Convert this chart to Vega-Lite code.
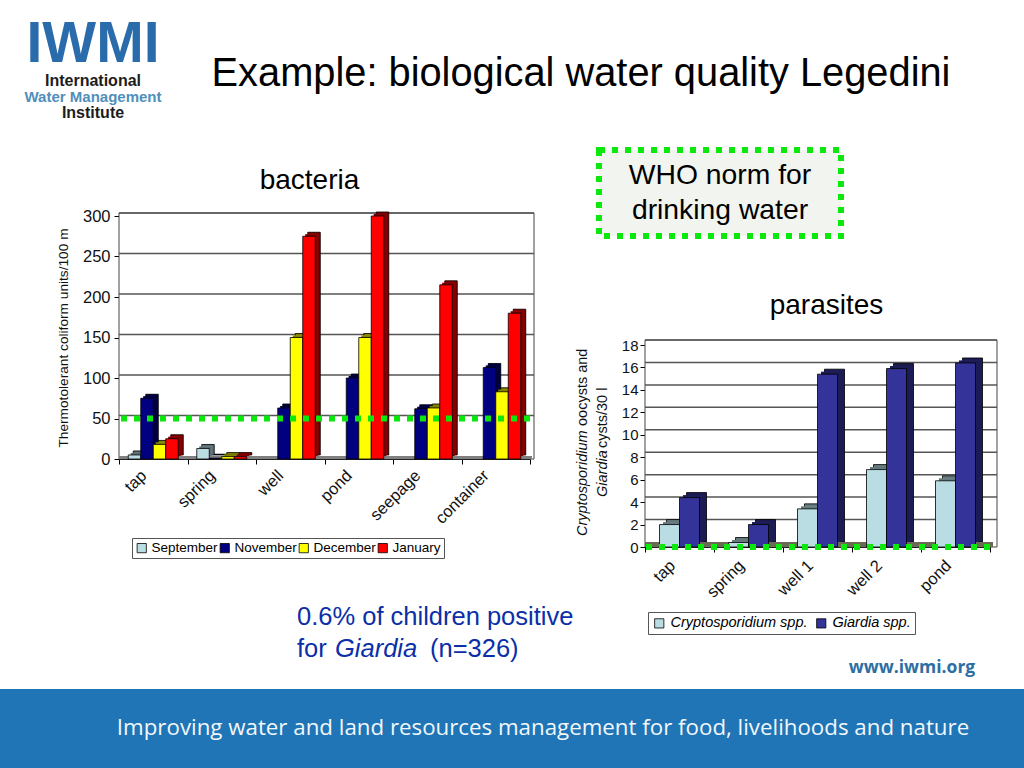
{
"$schema":"https://vega.github.io/schema/vega-lite/v6.json",
"padding":0,"autosize":{"type":"pad"},"spacing":0,
"background":"white",
"config":{"font":"Liberation Sans","view":{"stroke":null},"concat":{"spacing":0},
"axis":{"labelColor":"#111","titleColor":"#111","domainColor":"#000","tickColor":"#000","labelOverlap":false}},
"datasets":{
"bacteria":[
{"site":"tap","month":"September","value":5},{"site":"tap","month":"November","value":75},{"site":"tap","month":"December","value":18},{"site":"tap","month":"January","value":25},
{"site":"spring","month":"September","value":13},{"site":"spring","month":"November","value":1},{"site":"spring","month":"December","value":3},{"site":"spring","month":"January","value":3},
{"site":"well","month":"November","value":63},{"site":"well","month":"December","value":150},{"site":"well","month":"January","value":275},
{"site":"pond","month":"November","value":100},{"site":"pond","month":"December","value":150},{"site":"pond","month":"January","value":300},
{"site":"seepage","month":"November","value":62},{"site":"seepage","month":"December","value":63},{"site":"seepage","month":"January","value":215},
{"site":"container","month":"November","value":113},{"site":"container","month":"December","value":83},{"site":"container","month":"January","value":180}],
"parasites":[
{"site":"tap","species":"Cryptosporidium spp.","value":2},{"site":"tap","species":"Giardia spp.","value":4.4},
{"site":"spring","species":"Cryptosporidium spp.","value":0.4},{"site":"spring","species":"Giardia spp.","value":2},
{"site":"well 1","species":"Cryptosporidium spp.","value":3.4},{"site":"well 1","species":"Giardia spp.","value":15.4},
{"site":"well 2","species":"Cryptosporidium spp.","value":6.9},{"site":"well 2","species":"Giardia spp.","value":15.9},
{"site":"pond","species":"Cryptosporidium spp.","value":5.9},{"site":"pond","species":"Giardia spp.","value":16.4}],
"ticksB":[{"tick":50},{"tick":100},{"tick":150},{"tick":200},{"tick":250},{"tick":300}],
"ticksP":[{"tick":2},{"tick":4},{"tick":6},{"tick":8},{"tick":10},{"tick":12},{"tick":14},{"tick":16},{"tick":18}]
},
"vconcat":[
{"width":1024,"height":144,
 "resolve":{"scale":{"y":"independent"}},
 "layer":[
 {"data":{"values":[{"block":"title","line":"t","label":"Example: biological water quality Legedini"}]},
  "mark":{"type":"text","fontSize":39.8,"color":"#000"},
  "encoding":{"x":{"field":"block","type":"nominal","axis":null,"scale":{"domain":["logo","title"],"range":[93,581],"padding":0}},
   "y":{"field":"line","type":"nominal","axis":null,"scale":{"domain":["t"],"range":[74,74]}},
   "text":{"field":"label"}}},
 {"data":{"values":[{"block":"logo","line":"IWMI","label":"IWMI","c":"a"}]},
  "mark":{"type":"text","fontSize":57,"fontWeight":"bold","color":"#2a6cab"},
  "encoding":{"x":{"field":"block","type":"nominal","axis":null},
   "y":{"field":"line","type":"nominal","axis":null,"scale":{"domain":["IWMI"],"range":[45,45]}},
   "text":{"field":"label"}}},
 {"data":{"values":[{"block":"logo","line":"International"},{"block":"logo","line":"Institute"}]},
  "mark":{"type":"text","fontSize":16,"fontWeight":"bold","color":"#1c1c1c"},
  "encoding":{"x":{"field":"block","type":"nominal","axis":null},
   "y":{"field":"line","type":"nominal","axis":null,"scale":{"domain":["International","Institute"],"range":[81,113],"padding":0}},
   "text":{"field":"line"}}},
 {"data":{"values":[{"block":"logo","line":"Water Management"}]},
  "mark":{"type":"text","fontSize":15,"fontWeight":"bold","color":"#4f8fbc"},
  "encoding":{"x":{"field":"block","type":"nominal","axis":null},
   "y":{"field":"line","type":"nominal","axis":null,"scale":{"domain":["Water Management"],"range":[97,97]}},
   "text":{"field":"line"}}}
 ]},
{"spacing":0,
 "resolve":{"scale":{"color":"independent","xOffset":"independent"},"legend":{"color":"independent"}},
 "hconcat":[
 {"width":55.5,"height":10,"data":{"values":[{}]},"mark":{"type":"text","fontSize":1},"encoding":{}},
 {"spacing":0,"vconcat":[
  {"width":411,"height":23,"data":{"values":[{}]},"mark":{"type":"text","fontSize":1},"encoding":{}},
  {"width":411,"height":243,
   "title":{"text":"bacteria","fontSize":28,"fontWeight":"normal","anchor":"middle","dx":-15,"offset":13,"color":"#000"},
   "resolve":{"scale":{"xOffset":"independent"}},
   "layer":[
   {"data":{"values":[{}]},"mark":{"type":"rect","fill":"white","stroke":"#444","strokeWidth":1,"xOffset":4,"x2Offset":4,"yOffset":-3,"y2Offset":-3},"encoding":{}},
   {"data":{"name":"ticksB"},"mark":{"type":"rule","color":"#555","strokeWidth":1.5,"xOffset":4,"x2Offset":4,"yOffset":-3,"y2Offset":-3},
    "encoding":{"y":{"field":"tick","type":"quantitative","scale":{"domain":[0,300],"nice":false},
      "axis":{"title":"Thermotolerant coliform units/100 m","titleFontSize":13.7,"titleFontWeight":"normal","titlePadding":12,"labelFontSize":16.5,"labelPadding":4,"labelOverlap":false,"values":[0,50,100,150,200,250,300],"tickSize":5,"grid":false}}}},
   {"data":{"name":"bacteria"},"mark":{"type":"bar","stroke":"#000","strokeWidth":0.8,"yOffset":-4,"y2Offset":-4},
    "encoding":{"x":{"field":"site","type":"nominal","sort":null,"scale":{"domain":["tap","spring","well","pond","seepage","container"],"paddingInner":0,"paddingOuter":0},
      "axis":{"title":null,"labelAngle":-45,"labelFontSize":16.5,"labelOffset":-15.5,"labelPadding":3,"tickBand":"extent","tickSize":5,"labelAlign":"right","labelBaseline":"top"}},
     "xOffset":{"field":"month","scale":{"domain":["September","November","December","January"],"paddingInner":0,"paddingOuter":0.74,"range":[5,73.5]}},
     "y":{"field":"value","type":"quantitative"},
     "color":{"field":"month","type":"nominal","scale":{"domain":["September","November","December","January"],"range":["#b9dde3","#000080","#ffff00","#ff0000"]},
      "legend":{"title":null,"orient":"none","legendX":13,"legendY":394,"direction":"horizontal","columns":4,"symbolType":"square","symbolSize":85,"symbolStrokeColor":"#000","symbolStrokeWidth":0.8,"labelFontSize":13.5,"labelColor":"#000","fillColor":"white","strokeColor":"#555","padding":3,"columnPadding":0,"labelOffset":3,"symbolOpacity":1}}}},
   {"data":{"name":"bacteria"},"mark":{"type":"bar","fill":"#000","opacity":0.5,"yOffset":-4,"y2Offset":-4},
    "encoding":{"x":{"field":"site","type":"nominal","sort":null},"xOffset":{"field":"month","scale":{"domain":["September","November","December","January"],"paddingInner":0,"paddingOuter":0.74,"range":[5,73.5]}},"y":{"field":"value","type":"quantitative"}}},
   {"data":{"name":"bacteria"},"mark":{"type":"bar","yOffset":-2,"y2Offset":-2},
    "encoding":{"x":{"field":"site","type":"nominal","sort":null},"xOffset":{"field":"month","scale":{"domain":["September","November","December","January"],"paddingInner":0,"paddingOuter":0.74,"range":[2.5,71]}},"y":{"field":"value","type":"quantitative"},"color":{"field":"month","type":"nominal"}}},
   {"data":{"name":"bacteria"},"mark":{"type":"bar","fill":"#000","opacity":0.5,"yOffset":-2,"y2Offset":-2},
    "encoding":{"x":{"field":"site","type":"nominal","sort":null},"xOffset":{"field":"month","scale":{"domain":["September","November","December","January"],"paddingInner":0,"paddingOuter":0.74,"range":[2.5,71]}},"y":{"field":"value","type":"quantitative"}}},
   {"data":{"values":[{"base":0}]},"mark":{"type":"rule","color":"#808080","strokeWidth":3,"yOffset":-1.5,"y2Offset":-1.5,"xOffset":2,"x2Offset":2},
    "encoding":{"y":{"field":"base","type":"quantitative"}}},
   {"data":{"name":"bacteria"},"mark":{"type":"bar","stroke":"#000","strokeWidth":0.8},
    "encoding":{"x":{"field":"site","type":"nominal","sort":null},"xOffset":{"field":"month","scale":{"domain":["September","November","December","January"],"paddingInner":0,"paddingOuter":0.74,"range":[0,68.5]}},"y":{"field":"value","type":"quantitative"},"color":{"field":"month","type":"nominal"}}},
   {"data":{"values":[{"norm":50}]},"mark":{"type":"rule","color":"#0be80b","strokeWidth":6,"strokeDash":[6,7]},
    "encoding":{"y":{"field":"norm","type":"quantitative"}}}
   ]},
  {"width":456,"height":134,
   "layer":[
   {"data":{"values":[{"label":"0.6% of children positive","start":"a","line":"l1"},{"label":"for","start":"a","line":"l2"},{"label":"(n=326)","start":"h","line":"l2"}]},
    "mark":{"type":"text","align":"left","fontSize":25.5,"color":"#0a2fa8"},
    "encoding":{"x":{"field":"start","type":"nominal","axis":null,"scale":{"domain":["a","b","c","d","e","f","g","h"],"range":[178,311],"padding":0}},
     "y":{"field":"line","type":"nominal","axis":null,"scale":{"domain":["l1","l2"],"range":[90,122],"padding":0}},
     "text":{"field":"label"}}},
   {"data":{"values":[{"label":"Giardia","start":"c","line":"l2"}]},
    "mark":{"type":"text","align":"left","fontSize":25.5,"fontStyle":"italic","color":"#0a2fa8"},
    "encoding":{"x":{"field":"start","type":"nominal","axis":null},"y":{"field":"line","type":"nominal","axis":null},"text":{"field":"label"}}}
   ]}
 ]},
 {"spacing":0,"vconcat":[
  {"width":16,"height":3,"data":{"values":[{}]},"mark":{"type":"text","fontSize":1},"encoding":{}},
  {"spacing":0,"hconcat":[
   {"width":16,"height":10,"data":{"values":[{}]},"mark":{"type":"text","fontSize":1},"encoding":{}},
   {"width":242,"height":86,"view":{"stroke":"#0be80b","strokeWidth":6,"strokeDash":[6,7],"fill":"#f1f4ef"},
    "data":{"values":[{"line":"WHO norm for"},{"line":"drinking water"}]},
    "mark":{"type":"text","fontSize":28.3,"color":"#000"},
    "encoding":{"y":{"field":"line","type":"nominal","axis":null,"sort":null,"scale":{"domain":["WHO norm for","drinking water"],"range":[26,61],"padding":0}},"text":{"field":"line"}}}
  ]},
  {"width":16,"height":53,"data":{"values":[{}]},"mark":{"type":"text","fontSize":1},"encoding":{}},
  {"spacing":0,"hconcat":[
   {"width":41,"height":202,
    "resolve":{"scale":{"x":"independent","y":"independent"}},
    "layer":[
    {"data":{"values":[{"label":"Cryptosporidium"},{"label":"Giardia"}]},
     "mark":{"type":"text","angle":-90,"align":"left","baseline":"middle","fontSize":14.5,"fontStyle":"italic","color":"#111"},
     "encoding":{"x":{"field":"label","type":"nominal","axis":null,"scale":{"domain":["Cryptosporidium","Giardia"],"range":[3,23],"padding":0}},
      "y":{"field":"label","type":"nominal","axis":null,"scale":{"domain":["Cryptosporidium","Giardia"],"range":[191,152],"padding":0}},"text":{"field":"label"}}},
    {"data":{"values":[{"label":"oocysts and"},{"label":"cysts/30 l"}]},
     "mark":{"type":"text","angle":-90,"align":"left","baseline":"middle","fontSize":14.5,"color":"#111"},
     "encoding":{"x":{"field":"label","type":"nominal","axis":null,"scale":{"domain":["oocysts and","cysts/30 l"],"range":[3,23],"padding":0}},
      "y":{"field":"label","type":"nominal","axis":null,"scale":{"domain":["oocysts and","cysts/30 l"],"range":[81,103],"padding":0}},"text":{"field":"label"}}}
    ]},
   {"width":345,"height":202,
    "title":{"text":"parasites","fontSize":28,"fontWeight":"normal","anchor":"middle","dx":9,"offset":18,"color":"#000"},
    "resolve":{"scale":{"xOffset":"independent"}},
    "layer":[
    {"data":{"values":[{}]},"mark":{"type":"rect","fill":"white","stroke":"#444","strokeWidth":1,"xOffset":7,"x2Offset":7,"yOffset":-5,"y2Offset":-5},"encoding":{}},
    {"data":{"name":"ticksP"},"mark":{"type":"rule","color":"#555","strokeWidth":1.5,"xOffset":7,"x2Offset":7,"yOffset":-5,"y2Offset":-5},
     "encoding":{"y":{"field":"tick","type":"quantitative","scale":{"domain":[0,18],"nice":false},
       "axis":{"title":null,"labelFontSize":15,"labelOverlap":false,"labelSeparation":0,"labelBound":false,"tickCount":10,"values":[0,2,4,6,8,10,12,14,16,18],"tickSize":5,"grid":false}}}},
    {"data":{"name":"parasites"},"mark":{"type":"bar","stroke":"#000","strokeWidth":0.8,"yOffset":-5,"y2Offset":-5},
     "encoding":{"x":{"field":"site","type":"nominal","sort":null,"scale":{"domain":["tap","spring","well 1","well 2","pond"],"paddingInner":0,"paddingOuter":0},
       "axis":{"title":null,"labelAngle":-45,"labelFontSize":16.5,"labelOffset":-13,"labelPadding":5,"tickBand":"extent","tickSize":5,"labelAlign":"right","labelBaseline":"top"}},
      "xOffset":{"field":"species","scale":{"domain":["Cryptosporidium spp.","Giardia spp."],"paddingInner":0,"paddingOuter":0.725,"range":[7,76]}},
      "y":{"field":"value","type":"quantitative","axis":{"title":null,"labelFontSize":15,"labelOverlap":false,"labelSeparation":0,"labelBound":false,"tickCount":10,"values":[0,2,4,6,8,10,12,14,16,18],"tickSize":5,"grid":false}},
      "color":{"field":"species","type":"nominal","scale":{"domain":["Cryptosporidium spp.","Giardia spp."],"range":["#b9dde3","#333399"]},
       "legend":{"title":null,"orient":"none","legendX":68,"legendY":468,"direction":"horizontal","columns":2,"symbolType":"square","symbolSize":85,"symbolStrokeColor":"#000","symbolStrokeWidth":0.8,"labelFontSize":14.5,"labelFontStyle":"italic","labelColor":"#000","fillColor":"white","strokeColor":"#555","padding":4,"columnPadding":6,"labelOffset":4,"symbolOpacity":1}}}},
    {"data":{"name":"parasites"},"mark":{"type":"bar","fill":"#000","opacity":0.45,"yOffset":-5,"y2Offset":-5},
     "encoding":{"x":{"field":"site","type":"nominal","sort":null},"xOffset":{"field":"species","scale":{"domain":["Cryptosporidium spp.","Giardia spp."],"paddingInner":0,"paddingOuter":0.725,"range":[7,76]}},"y":{"field":"value","type":"quantitative"}}},
    {"data":{"name":"parasites"},"mark":{"type":"bar","yOffset":-2.5,"y2Offset":-2.5},
     "encoding":{"x":{"field":"site","type":"nominal","sort":null},"xOffset":{"field":"species","scale":{"domain":["Cryptosporidium spp.","Giardia spp."],"paddingInner":0,"paddingOuter":0.725,"range":[3.5,72.5]}},"y":{"field":"value","type":"quantitative"},"color":{"field":"species","type":"nominal"}}},
    {"data":{"name":"parasites"},"mark":{"type":"bar","fill":"#000","opacity":0.45,"yOffset":-2.5,"y2Offset":-2.5},
     "encoding":{"x":{"field":"site","type":"nominal","sort":null},"xOffset":{"field":"species","scale":{"domain":["Cryptosporidium spp.","Giardia spp."],"paddingInner":0,"paddingOuter":0.725,"range":[3.5,72.5]}},"y":{"field":"value","type":"quantitative"}}},
    {"data":{"values":[{"base":0}]},"mark":{"type":"rule","color":"#6b6b55","strokeWidth":5,"yOffset":-2.5,"y2Offset":-2.5,"xOffset":3,"x2Offset":3},
     "encoding":{"y":{"field":"base","type":"quantitative"}}},
    {"data":{"name":"parasites"},"mark":{"type":"bar","stroke":"#000","strokeWidth":0.8},
     "encoding":{"x":{"field":"site","type":"nominal","sort":null},"xOffset":{"field":"species","scale":{"domain":["Cryptosporidium spp.","Giardia spp."],"paddingInner":0,"paddingOuter":0.725,"range":[0,69]}},"y":{"field":"value","type":"quantitative"},"color":{"field":"species","type":"nominal"}}},
    {"data":{"values":[{"norm":0}]},"mark":{"type":"rule","color":"#0be80b","strokeWidth":6,"strokeDash":[6,7]},
     "encoding":{"y":{"field":"norm","type":"quantitative"}}}
    ]}
  ]},
  {"width":443,"height":88,"data":{"values":[{"site":"www.iwmi.org"}]},
   "mark":{"type":"text","fontSize":17.5,"fontWeight":"bold","font":"Open Sans","color":"#2d6ea3"},
   "encoding":{"x":{"field":"site","type":"nominal","axis":null,"scale":{"domain":["www.iwmi.org"],"range":[332,332]}},
    "y":{"field":"site","type":"nominal","axis":null,"scale":{"domain":["www.iwmi.org"],"range":[67,67]}},"text":{"field":"site"}}}
 ]}
]},
{"width":1024,"height":80,"view":{"fill":"#1f75b5","stroke":null},
 "data":{"values":[{"line":"Improving water and land resources management for food, livelihoods and nature"}]},
 "mark":{"type":"text","fontSize":22.3,"font":"Open Sans","color":"#f2f7fb"},
 "encoding":{"x":{"field":"line","type":"nominal","axis":null,"scale":{"domain":["Improving water and land resources management for food, livelihoods and nature"],"range":[543,543]}},
  "y":{"field":"line","type":"nominal","axis":null,"scale":{"domain":["Improving water and land resources management for food, livelihoods and nature"],"range":[39,39]}},"text":{"field":"line"}}}
]}
